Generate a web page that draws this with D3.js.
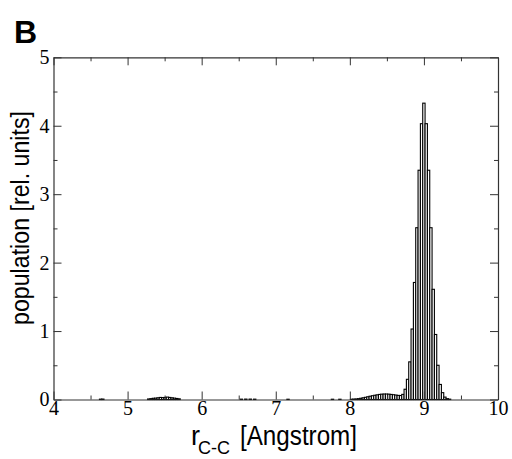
<!DOCTYPE html>
<html>
<head>
<meta charset="utf-8">
<script src="https://cdn.jsdelivr.net/npm/d3@7"></script>
<style>
  body { margin: 0; background: #fff; }
  svg { display: block; }
  .axis path, .axis line { stroke: #333; }
  .axis text { font-family: "Liberation Serif", "DejaVu Serif", serif; font-size: 20px; fill: #000; }
</style>
</head>
<body>
<div id="chart"></div>
<script>
// histogram of C-C distances, bin width in Angstrom
const binWidth = 0.0315;

// tiny bump around 5.5
const farStart = 5.27;
const farValues = [0.008, 0.012, 0.018, 0.02, 0.025, 0.03, 0.028, 0.03, 0.035, 0.03, 0.025, 0.02, 0.015, 0.01];

// scattered near-empty bins
const strayX = [4.62, 4.65, 6.52, 6.58, 6.64, 6.70, 7.15, 7.75, 7.85];
const strayValues = [0.005, 0.006, 0.005, 0.006, 0.006, 0.005, 0.004, 0.004, 0.004];

// shoulder 8.0 - 8.73
const bumpStart = 8.0075;
const bumpValues = [0.004, 0.006, 0.008, 0.012, 0.018, 0.025, 0.032, 0.04, 0.048, 0.055, 0.062, 0.068,
  0.074, 0.078, 0.08, 0.08, 0.078, 0.074, 0.07, 0.065, 0.06, 0.058, 0.075];

// main peak at 9
const peakStart = 8.732;
const peakValues = [0.15, 0.295, 0.55, 1.03, 1.71, 2.51, 3.35, 4.03, 4.33, 4.03, 3.35, 2.51,
  1.61, 0.95, 0.50, 0.22, 0.10, 0.035, 0.012, 0.005];

const xMajor = [4, 5, 6, 7, 8, 9, 10];
const xMinor = [4.5, 5.5, 6.5, 7.5, 8.5, 9.5];
const yMajor = [0, 1, 2, 3, 4, 5];
const yMinor = [0.5, 1.5, 2.5, 3.5, 4.5];

const W = 512, H = 459;
const margin = { top: 57.3, right: 14, bottom: 59.5, left: 53.5 };
const width = W - margin.left - margin.right;
const height = H - margin.top - margin.bottom;

const svg = d3.select("#chart").append("svg")
  .attr("width", W)
  .attr("height", H);

const g = svg.append("g")
  .attr("transform", "translate(" + margin.left + "," + margin.top + ")");

const x = d3.scaleLinear().domain([4, 10]).range([0, width]);
const y = d3.scaleLinear().domain([0, 5]).range([height, 0]);

// build bins
let bins = [];
function addRun(start, vals) {
  vals.forEach((v, i) => {
    bins.push({ x0: start + i * binWidth, x1: start + (i + 1) * binWidth, v: v });
  });
}
addRun(farStart, farValues);
addRun(bumpStart, bumpValues);
addRun(peakStart, peakValues);
strayX.forEach((sx, i) => bins.push({ x0: sx, x1: sx + binWidth, v: strayValues[i] }));

g.selectAll(".bar")
  .data(bins)
  .enter()
  .append("rect")
  .attr("class", "bar")
  .attr("x", d => x(d.x0))
  .attr("width", d => x(d.x1) - x(d.x0))
  .attr("y", d => y(d.v))
  .attr("height", d => y(0) - y(d.v))
  .attr("fill", "#fff")
  .attr("stroke", "#000")
  .attr("stroke-width", 1.1);

// axes: ticks pointing inward on all sides
function drawAxis(axisFn, scale, major, minor, transform, labels, pad) {
  const maj = axisFn(scale).tickValues(major).tickSizeInner(-8).tickSizeOuter(0)
    .tickPadding(pad || 0)
    .tickFormat(labels ? d3.format("d") : "");
  g.append("g").attr("class", "axis").attr("transform", transform).call(maj);
  const mn = axisFn(scale).tickValues(minor).tickSizeInner(-4).tickSizeOuter(0).tickFormat("");
  const a = g.append("g").attr("class", "axis").attr("transform", transform).call(mn);
  a.select(".domain").remove();
}

drawAxis(d3.axisBottom, x, xMajor, xMinor, "translate(0," + height + ")", true, 1);
drawAxis(d3.axisTop, x, xMajor, xMinor, "translate(0,0)", false);
drawAxis(d3.axisLeft, y, yMajor, yMinor, "translate(0,0)", true, 4);
drawAxis(d3.axisRight, y, yMajor, yMinor, "translate(" + width + ",0)", false);

g.selectAll(".axis .domain").attr("stroke-width", 1.2);

// panel label
svg.append("text")
  .attr("x", 14)
  .attr("y", 43)
  .style("font-family", "'Liberation Sans', Arial, sans-serif")
  .style("font-weight", "bold")
  .style("font-size", "32px")
  .text("B");

// x title
const sans = "'Liberation Sans', Arial, sans-serif";
svg.append("text")
  .attr("x", 191).attr("y", 445)
  .style("font-family", sans).style("font-size", "27px")
  .text("r");
svg.append("text")
  .attr("x", 198).attr("y", 454)
  .style("font-family", sans).style("font-size", "18px")
  .text("C-C");
svg.append("text")
  .attr("x", 240).attr("y", 445)
  .attr("textLength", 117).attr("lengthAdjust", "spacingAndGlyphs")
  .style("font-family", sans).style("font-size", "27px")
  .text("[Angstrom]");

// y title
svg.append("text")
  .attr("transform", "translate(29,218) rotate(-90)")
  .attr("text-anchor", "middle")
  .attr("textLength", 214).attr("lengthAdjust", "spacingAndGlyphs")
  .style("font-family", sans).style("font-size", "25px")
  .text("population [rel. units]");
</script>
</body>
</html>
